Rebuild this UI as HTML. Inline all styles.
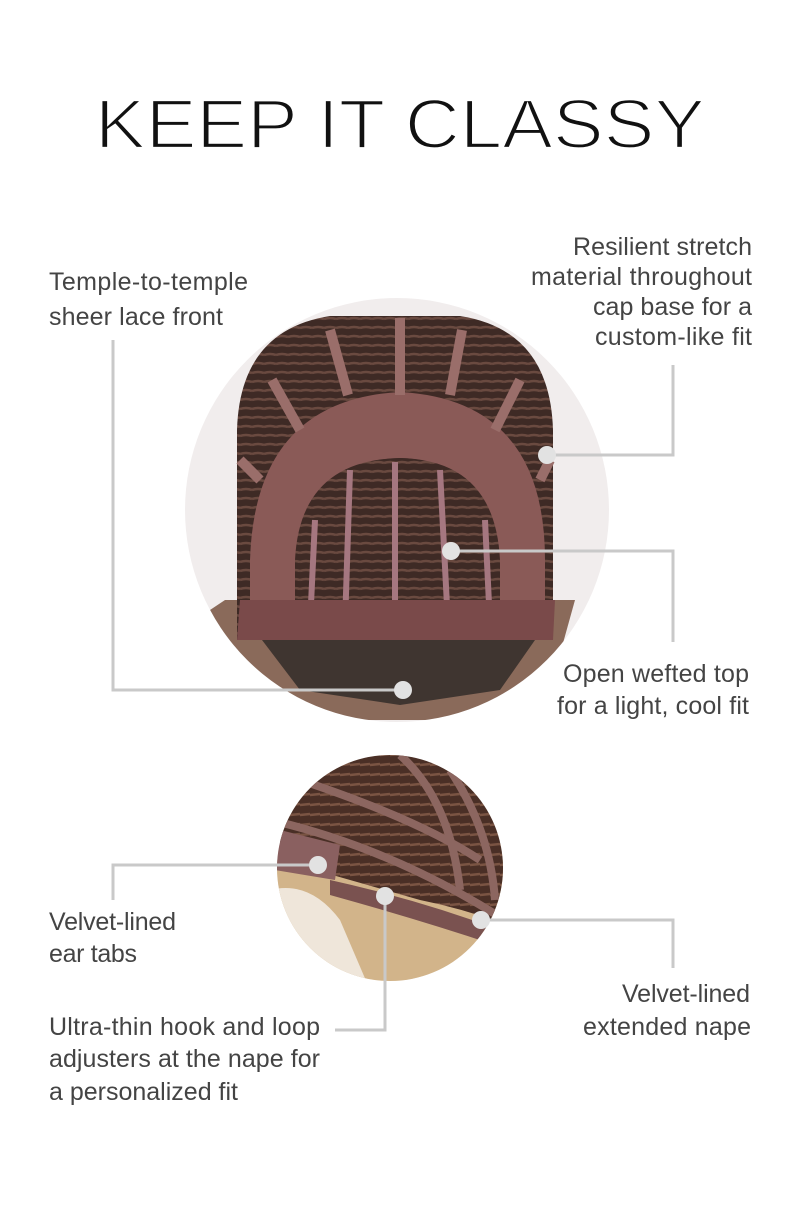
<!DOCTYPE html>
<html><head><style>html,body{margin:0;padding:0;background:#fff}</style></head><body>
<svg width="800" height="1200" viewBox="0 0 800 1200" xmlns="http://www.w3.org/2000/svg" font-family="Liberation Sans, sans-serif">
<defs>
<pattern id="weft" width="12" height="9" patternUnits="userSpaceOnUse">
<rect width="12" height="9" fill="#3e2a25"/>
<path d="M0 4 Q6 2 12 4" stroke="#6a4a40" stroke-width="2.5" fill="none"/>
</pattern>
<pattern id="weft2" width="10" height="10" patternUnits="userSpaceOnUse">
<rect width="10" height="10" fill="#4a2f26"/>
<path d="M0 5 L10 4" stroke="#7a5443" stroke-width="2.5"/>
</pattern>
<clipPath id="sc"><circle cx="390" cy="868" r="113"/></clipPath>
<clipPath id="bc"><circle cx="397" cy="510" r="212"/></clipPath>
</defs>
<text x="95" y="148" font-size="70" fill="#111" stroke="#fff" stroke-width="2.2" textLength="610" lengthAdjust="spacingAndGlyphs">KEEP IT CLASSY</text>

<circle cx="397" cy="510" r="212" fill="#f1eded"/>
<g clip-path="url(#bc)">
<path d="M225 600 L210 610 L250 690 L300 720 L500 720 L550 690 L575 600 Z" fill="#8a6a5a"/>
<path d="M237 640 L237 430 Q240 330 330 316 L460 316 Q550 330 553 430 L553 640 Z" fill="url(#weft)"/>
<path d="M250 628 L250 560 Q255 400 400 392 Q545 400 545 560 L545 628 L500 628 L500 560 Q495 460 400 458 Q300 460 295 560 L295 628 Z" fill="#8a5a57"/>
<path d="M300 580 Q300 460 400 458 Q495 460 500 580 L500 628 L300 628 Z" fill="url(#weft)"/>
<g stroke="#a57780" stroke-width="6">
<line x1="350" y1="470" x2="345" y2="625"/><line x1="395" y1="462" x2="395" y2="625"/>
<line x1="440" y1="470" x2="448" y2="625"/><line x1="485" y1="520" x2="490" y2="625"/>
<line x1="315" y1="520" x2="310" y2="625"/>
</g>
<g stroke="#9a6e6a" stroke-width="10">
<line x1="330" y1="330" x2="348" y2="395"/><line x1="400" y1="318" x2="400" y2="395"/>
<line x1="462" y1="330" x2="450" y2="395"/><line x1="272" y1="380" x2="300" y2="430"/>
<line x1="520" y1="380" x2="495" y2="430"/><line x1="240" y1="460" x2="260" y2="480"/>
<line x1="550" y1="460" x2="540" y2="480"/>
</g>
<path d="M240 600 L555 600 L553 640 L237 640 Z" fill="#7a4a4a"/>
<path d="M262 640 L535 640 L500 690 L400 705 L300 690 Z" fill="#3f3530"/>
</g>

<circle cx="390" cy="868" r="113" fill="#f3ebe0"/>
<g clip-path="url(#sc)">
<rect x="270" y="860" width="240" height="130" fill="#d2b48a"/>
<path d="M270 890 Q310 880 340 920 L370 990 L270 990 Z" fill="#efe6da"/>
<path d="M280 740 L520 740 L520 930 Q470 910 420 900 L280 860 Z" fill="url(#weft2)"/>
<g stroke="#8c6660" stroke-width="8" fill="none">
<path d="M270 820 Q400 850 520 930"/>
<path d="M300 780 Q420 820 480 860"/>
<path d="M400 755 Q450 800 460 890"/>
<path d="M450 770 Q490 830 495 900"/>
</g>
<path d="M280 830 L340 845 L335 880 L275 870 Z" fill="#8a6060"/>
<path d="M330 880 Q420 900 500 930 L495 945 Q420 920 330 895 Z" fill="#7a5250"/>
</g>

<g stroke="#c9c9c9" stroke-width="3" fill="none">
<polyline points="113,340 113,690 403,690"/>
<polyline points="547,455 673,455 673,365"/>
<polyline points="451,551 673,551 673,642"/>
<polyline points="318,865 113,865 113,900"/>
<polyline points="385,896 385,1030 335,1030"/>
<polyline points="481,920 673,920 673,968"/>
</g>
<g fill="#e2e2e2">
<circle cx="403" cy="690" r="9"/><circle cx="547" cy="455" r="9"/><circle cx="451" cy="551" r="9"/>
<circle cx="318" cy="865" r="9"/><circle cx="385" cy="896" r="9"/><circle cx="481" cy="920" r="9"/>
</g>

<g font-size="25" fill="#444" lengthAdjust="spacingAndGlyphs">
<text x="49" y="290" textLength="199">Temple-to-temple</text>
<text x="49" y="325" textLength="174">sheer lace front</text>
<text x="573" y="255" textLength="179">Resilient stretch</text>
<text x="531" y="285" textLength="221">material throughout</text>
<text x="593" y="315" textLength="159">cap base for a</text>
<text x="595" y="345" textLength="157">custom-like fit</text>
<text x="563" y="682" textLength="186">Open wefted top</text>
<text x="557" y="714" textLength="192">for a light, cool fit</text>
<text x="622" y="1002" textLength="128">Velvet-lined</text>
<text x="583" y="1035" textLength="168">extended nape</text>
<text x="49" y="930" textLength="127">Velvet-lined</text>
<text x="49" y="962" textLength="88">ear tabs</text>
<text x="49" y="1035" textLength="271">Ultra-thin hook and loop</text>
<text x="49" y="1067" textLength="271">adjusters at the nape for</text>
<text x="49" y="1100" textLength="189">a personalized fit</text>
</g>
</svg>
</body></html>
